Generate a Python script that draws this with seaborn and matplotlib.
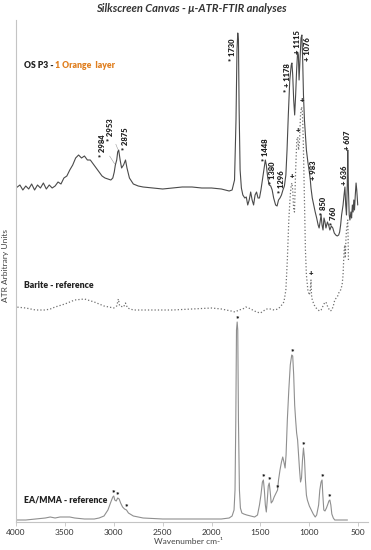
import numpy as np
import pandas as pd
import seaborn as sns
import matplotlib.pyplot as plt

# OS P3 - 1 orange layer (wavenumber, arbitrary intensity)
osp3_wn = [4000, 3960, 3930, 3900, 3870, 3840, 3810, 3780, 3750, 3720, 3690, 3660, 3630, 3600,
           3570, 3540, 3510, 3480, 3450, 3420, 3390, 3360, 3330, 3300, 3270, 3240, 3210, 3180,
           3150, 3120, 3090, 3060, 3030, 3010, 2995, 2984, 2970, 2960, 2950, 2935, 2920, 2900,
           2880, 2865, 2840, 2800, 2750, 2700, 2600, 2500, 2400, 2300, 2200, 2100, 2000, 1900,
           1820, 1790, 1765, 1750, 1740, 1732, 1725, 1718, 1708, 1695, 1680, 1660, 1645, 1630,
           1615, 1600, 1585, 1570, 1555, 1540, 1525, 1510, 1495, 1480, 1465, 1450, 1440, 1425,
           1410, 1395, 1380, 1365, 1345, 1330, 1315, 1300, 1285, 1270, 1255, 1240, 1228, 1215,
           1200, 1185, 1178, 1170, 1160, 1150, 1140, 1130, 1120, 1112, 1105, 1095, 1085, 1076,
           1068, 1060, 1050, 1040, 1030, 1015, 1000, 990, 983, 970, 955, 940, 925, 910, 900,
           890, 880, 870, 860, 850, 840, 830, 815, 800, 790, 775, 760, 745, 730, 715, 700, 690,
           680, 670, 655, 645, 636, 628, 620, 612, 607, 600, 592, 585, 575, 568, 560, 552, 545,
           538, 530, 522, 515, 505]
osp3_int = [334, 337, 332, 336, 333, 338, 332, 337, 334, 339, 333, 337, 334, 336,
            340, 338, 344, 346, 352, 357, 364, 367, 364, 366, 362, 362, 358, 354,
            350, 346, 344, 343, 342, 344, 350, 357, 362, 370, 372, 362, 354, 357,
            362, 354, 344, 338, 336, 335, 334, 333, 334, 335, 335, 334, 334, 333,
            331, 332, 342, 402, 472, 489, 482, 412, 352, 334, 327, 324, 325, 317,
            322, 330, 322, 317, 327, 330, 324, 324, 332, 342, 352, 362, 357, 344,
            337, 336, 332, 324, 317, 316, 322, 324, 327, 332, 336, 347, 372, 407,
            442, 457, 459, 447, 422, 407, 427, 452, 470, 467, 442, 462, 484, 487,
            462, 427, 402, 387, 372, 360, 350, 342, 334, 324, 317, 310, 304, 297, 294,
            300, 307, 297, 292, 304, 300, 294, 300, 296, 292, 296, 294, 289, 287, 286, 287, 290,
            297, 307, 317, 327, 335, 317, 307, 337, 372, 332, 307, 302, 310, 304, 317, 310, 322,
            312, 327, 339, 332, 317]

# Barite - reference
barite_wn = [4000, 3900, 3800, 3700, 3650, 3600, 3500, 3400, 3300, 3200, 3100, 3000, 2970,
             2953, 2940, 2900, 2880, 2860, 2800, 2600, 2400, 2200, 2000, 1900, 1800, 1760,
             1720, 1680, 1650, 1620, 1580, 1540, 1500, 1470, 1440, 1400, 1360, 1320, 1290,
             1260, 1240, 1225, 1210, 1195, 1185, 1178, 1170, 1160, 1152, 1140, 1128, 1118,
             1110, 1100, 1090, 1080, 1072, 1062, 1050, 1040, 1030, 1015, 1000, 990, 983, 978,
             970, 950, 930, 910, 895, 880, 860, 845, 830, 815, 800, 785, 770, 755, 740, 725,
             710, 695, 680, 665, 655, 648, 642, 636, 632, 626, 620, 614, 607, 603, 600]
barite_int = [215, 214, 212, 212, 213, 215, 218, 222, 223, 220, 216, 214, 216,
              223, 216, 215, 219, 214, 212, 212, 212, 213, 214, 213, 211, 210,
              212, 213, 215, 214, 212, 210, 209, 211, 213, 213, 212, 213, 216,
              220, 232, 262, 302, 327, 337, 339, 332, 312, 310, 352, 382, 385,
              372, 382, 407, 415, 412, 382, 322, 272, 247, 232, 227, 232, 242, 227,
              222, 217, 214, 212, 211, 212, 216, 219, 220, 216, 213, 211, 212, 216, 222, 224,
              226, 230, 232, 237, 247, 264, 274, 277, 264, 282, 292, 297, 302, 282, 262]

# EA/MMA - reference
eamma_wn = [4000, 3900, 3800, 3700, 3650, 3600, 3550, 3500, 3450, 3400, 3300, 3200, 3150,
            3100, 3060, 3030, 3010, 3000, 2990, 2975, 2960, 2945, 2930, 2910, 2890, 2870,
            2850, 2800, 2700, 2500, 2300, 2100, 2000, 1900, 1820, 1790, 1770, 1760, 1752,
            1745, 1738, 1732, 1725, 1715, 1705, 1690, 1670, 1640, 1600, 1560, 1530, 1510,
            1495, 1480, 1470, 1460, 1450, 1440, 1430, 1420, 1410, 1400, 1390, 1375, 1360,
            1345, 1335, 1325, 1315, 1300, 1285, 1272, 1260, 1248, 1238, 1225, 1210, 1195,
            1180, 1170, 1160, 1150, 1140, 1130, 1120, 1110, 1100, 1090, 1080, 1070, 1060,
            1050, 1040, 1030, 1020, 1000, 980, 960, 940, 925, 905, 893, 880, 870, 862, 852,
            840, 825, 810, 800, 790, 780, 770, 755, 740, 700, 650, 610]
eamma_int = [2, 2, 3, 4, 5, 4, 5, 5, 5, 4, 3, 3, 4,
             6, 12, 20, 25, 26, 22, 21, 24, 23, 19, 15, 13, 12,
             9, 6, 4, 3, 3, 3, 3, 3, 4, 6, 12, 32, 102,
             192, 200, 192, 102, 32, 14, 9, 8, 7, 6, 5, 7, 17,
             27, 40, 42, 32, 17, 10, 22, 36, 39, 30, 19, 21, 25,
             28, 30, 32, 42, 52, 60, 65, 60, 54, 67, 102, 132, 157,
             167, 166, 147, 117, 102, 89, 82, 67, 52, 40, 44, 62, 74,
             64, 42, 27, 22, 16, 12, 8, 5, 7, 17, 32, 40, 42, 27, 12,
             11, 14, 18, 21, 22, 17, 8, 4, 2, 2, 2, 2]

# peak labels
osp3_labels = ['* 2984', '* 2953', '* 2875', '* 1730', '* + 1178', '+ 1115', '+ 1076',
               '* 1448', '* 1380', '* 1296', '+ 983', '* 850', '* 760', '+ 636', '+ 607']
osp3_label_wn = [2984, 2953, 2875, 1730, 1178, 1115, 1076, 1448, 1380, 1296, 983, 850, 760, 636, 607]
barite_marks_wn = [1178, 1118, 1080, 983]
eamma_marks_wn = [3000, 2960, 2870, 1738, 1470, 1410, 1330, 1175, 1060, 870, 790]

xticks = [4000, 3500, 3000, 2500, 2000, 1500, 1000, 500]

sns.set_style('white')
plt.rcParams['font.family'] = ['Lato', 'DejaVu Sans']

fig = plt.figure(figsize=(3.71, 5.5), dpi=100)
ax = fig.add_axes([16 / 371, 28 / 550, 352 / 371, 502 / 550])

osp3 = pd.DataFrame({'wn': osp3_wn, 'i': osp3_int})
barite = pd.DataFrame({'wn': barite_wn, 'i': barite_int})
eamma = pd.DataFrame({'wn': eamma_wn, 'i': eamma_int})

sns.lineplot(data=eamma, x='wn', y='i', ax=ax, color='#8f8f8f', linewidth=0.8)
sns.lineplot(data=barite, x='wn', y='i', ax=ax, color='#707070', linewidth=0.9, linestyle=':')
sns.lineplot(data=osp3, x='wn', y='i', ax=ax, color='#4a4a4a', linewidth=0.8)

ax.set_xlim(4000, 400)
ax.set_ylim(0, 502)
ax.set_xticks(xticks)
ax.set_yticks([])
ax.set_xlabel('')
ax.set_ylabel('')
for s in ['top', 'right']:
    ax.spines[s].set_visible(False)
for s in ['left', 'bottom']:
    ax.spines[s].set_color('#c4c4c4')
    ax.spines[s].set_linewidth(0.8)
ax.tick_params(axis='x', bottom=True, direction='out', length=3, width=0.6,
               color='#c4c4c4', labelsize=6, labelcolor='#333333', pad=2)

# label offsets in points (dx, dy)
offsets = {'* 2984': (-9, 6), '* 2953': (-6, 7), '* 2875': (0, 9), '* 1730': (-4, -19),
           '* + 1178': (-3.5, -21), '+ 1115': (-0.5, 0), '+ 1076': (4, -19),
           '* 1448': (0, 0), '* 1380': (0.5, 4), '* 1296': (0.5, 3), '+ 983': (1.5, 6),
           '* 850': (0, 2), '* 760': (0.5, 2), '+ 636': (-0.5, 1.5), '+ 607': (0, 0)}
for lab, w in zip(osp3_labels, osp3_label_wn):
    h = np.interp(w, osp3_wn[::-1], osp3_int[::-1])
    dx, dy = offsets[lab]
    arrow = None
    if lab in ('* 2984', '* 2953'):
        arrow = dict(arrowstyle='-', color='#9a9a9a', lw=0.4, shrinkA=0, shrinkB=1)
    ax.annotate(lab, xy=(w, h), xytext=(dx, dy), textcoords='offset points',
                rotation=90, ha='center', va='bottom', fontsize=5.5, fontweight='heavy',
                color='#222222', arrowprops=arrow)

for w in barite_marks_wn:
    h = np.interp(w, barite_wn[::-1], barite_int[::-1])
    ax.annotate('+', xy=(w, h), xytext=(0, 2), textcoords='offset points',
                ha='center', va='bottom', fontsize=5.5, fontweight='heavy', color='#222222')

for w in eamma_marks_wn:
    h = np.interp(w, eamma_wn[::-1], eamma_int[::-1])
    ax.annotate('*', xy=(w, h), xytext=(0, 0), textcoords='offset points',
                ha='center', va='bottom', fontsize=6, fontweight='heavy', color='#111111')

t1 = ax.text(3920, 456, 'OS P3 - ', fontsize=6.2, fontweight='heavy', color='#222222',
             ha='left', va='center')
fig.canvas.draw()
bb = t1.get_window_extent().transformed(ax.transData.inverted())
ax.text(bb.x1, 456, '1 Orange  layer', fontsize=6.2, fontweight='heavy', color='#E07F1F',
        ha='left', va='center')
ax.text(3920, 237, 'Barite - reference', fontsize=6.2, fontweight='heavy', color='#222222',
        ha='left', va='center')
ax.text(3920, 22, 'EA/MMA - reference', fontsize=6.2, fontweight='heavy', color='#222222',
        ha='left', va='center')

fig.text(0.517, 0.985, 'Silkscreen Canvas - \u03bc-ATR-FTIR analyses', ha='center', va='center',
         fontsize=8, fontweight='bold', fontstyle='italic', color='#333333')
fig.text(6 / 371, 1 - 266 / 550, 'ATR Arbitrary Units', rotation=90, ha='center', va='center',
         fontsize=6, color='#444444')
fig.text(188 / 371, 1 - 541 / 550, 'Wavenumber cm-\u00b9', ha='center', va='center',
         fontsize=6, color='#444444')

fig.savefig('out.png', dpi=100)
